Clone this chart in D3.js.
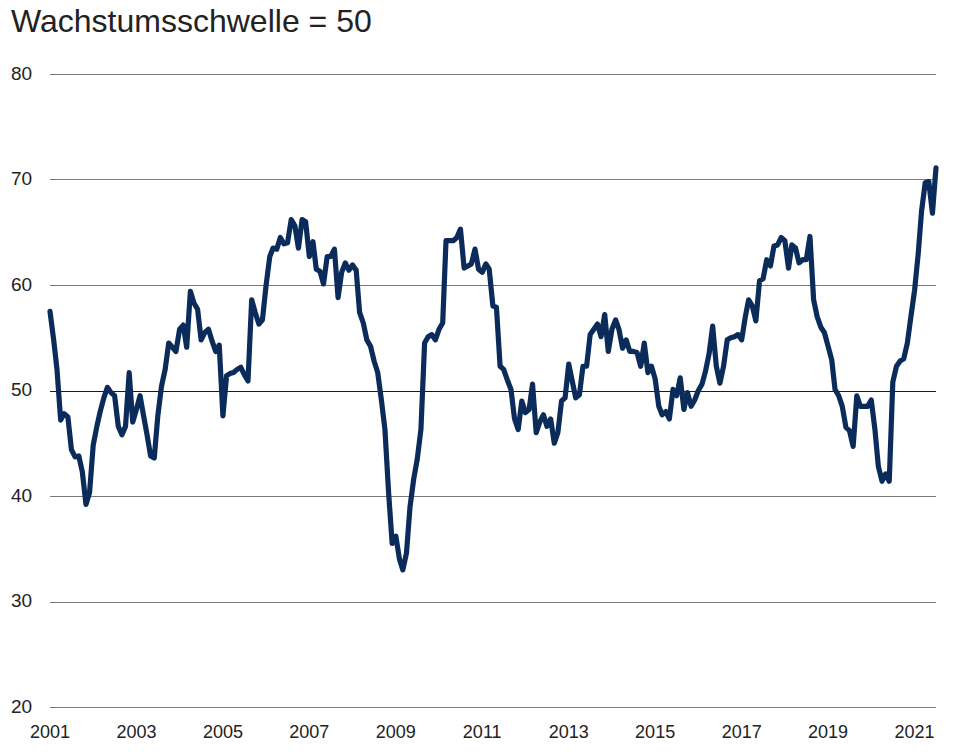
<!DOCTYPE html>
<html>
<head>
<meta charset="utf-8">
<script src="https://cdn.jsdelivr.net/npm/d3@7"></script>
<style>
    html, body { margin: 0; padding: 0; background: #fff; }
    svg { display: block; font-family: 'Liberation Sans', Arial, sans-serif; }
</style>
</head>
<body>
<div class="chart"></div>
<script>
'use strict';

// monthly index values, Jan 2001 - Jul 2021
var values = [
    57.5, 54.8, 52.0, 47.2, 47.8, 47.5, 44.4, 43.7, 43.8, 42.3, 39.2, 40.3,
    44.8, 46.6, 48.0, 49.3, 50.3, 49.8, 49.5, 46.6, 45.8, 46.6, 51.7, 47.0,
    48.2, 49.5, 47.7, 45.8, 43.8, 43.6, 47.6, 50.4, 52.0, 54.5, 54.1, 53.7,
    55.8, 56.2, 54.1, 59.4, 58.3, 57.7, 54.8, 55.5, 55.8, 54.7, 53.7, 54.3,
    47.6, 51.4, 51.6, 51.7, 52.0, 52.2, 51.5, 50.9, 58.6, 57.4, 56.3, 56.7,
    60.0, 62.7, 63.5, 63.4, 64.5, 63.9, 64.0, 66.2, 65.6, 63.5, 66.2, 66.0,
    62.7, 64.1, 61.5, 61.3, 60.1, 62.7, 62.7, 63.4, 58.8, 61.2, 62.1, 61.4,
    61.9, 61.4, 57.4, 56.4, 54.8, 54.2, 52.8, 51.7, 49.1, 46.3, 40.3, 35.5,
    36.2, 34.0, 33.0, 34.6, 39.0, 41.6, 43.5, 46.3, 54.5, 55.1, 55.3, 54.8,
    55.8, 56.4, 64.2, 64.2, 64.2, 64.5, 65.3, 61.6, 61.8, 62.0, 63.4, 61.5,
    61.2, 62.0, 61.5, 58.0, 57.9, 52.3, 52.0, 51.0, 50.1, 47.3, 46.3, 49.0,
    47.9, 48.2, 50.6, 46.0, 47.0, 47.7, 46.6, 47.3, 45.0, 46.0, 49.0, 49.3,
    52.5, 50.8, 49.3, 49.6, 52.3, 52.3, 55.3, 55.8, 56.3, 55.1, 57.2, 53.7,
    55.8, 56.7, 55.8, 54.0, 54.8, 53.7, 53.7, 53.6, 52.3, 54.5, 51.7, 52.3,
    51.1, 48.5, 47.7, 48.0, 47.3, 50.1, 49.5, 51.2, 48.2, 49.8, 48.5, 49.1,
    50.0, 50.6, 51.8, 53.5, 56.1, 52.3, 50.7, 52.3, 54.8, 55.0, 55.1, 55.3,
    54.8, 57.0, 58.6, 58.0, 56.6, 60.4, 60.6, 62.4, 61.8, 63.7, 63.8, 64.5,
    64.2, 61.6, 63.8, 63.5, 62.1, 62.4, 62.4, 64.6, 58.6, 57.0, 56.0, 55.5,
    54.2, 52.9, 50.1, 49.5, 48.5, 46.5, 46.2, 44.7, 49.5, 48.5, 48.5, 48.5,
    49.1, 46.3, 42.8, 41.4, 42.1, 41.4, 50.8, 52.3, 52.8, 53.0, 54.5, 57.0,
    59.5, 63.0, 67.0, 69.7, 69.8, 66.8, 71.1
];

var yTicks = [20, 30, 40, 50, 60, 70, 80];
var yearLabels = [2001, 2003, 2005, 2007, 2009, 2011, 2013, 2015, 2017, 2019, 2021];
var titleText = 'Wachstumsschwelle = 50';

var width = 960,
    height = 755;

var data = values.map(function(v, i){
    return { date: new Date(2001, i, 1), value: v };
});

var x = d3.scaleTime()
    .domain([new Date(2001, 0, 1), new Date(2001, values.length - 1, 1)])
    .range([50, 936]);

var y = d3.scaleLinear()
    .domain([20, 80])
    .range([707, 74]);

var svg = d3.select('.chart').append('svg')
    .attr('width', width)
    .attr('height', height);

svg.append('text')
    .attr('x', 11)
    .attr('y', 32)
    .attr('font-size', 32)
    .attr('fill', '#222')
    .text(titleText);

// gridlines, the 50 threshold is drawn darker
svg.append('g')
    .selectAll('line')
    .data(yTicks)
    .join('line')
    .attr('x1', 50)
    .attr('x2', 936)
    .attr('y1', function(d){ return Math.round(y(d)) + 0.5; })
    .attr('y2', function(d){ return Math.round(y(d)) + 0.5; })
    .attr('stroke', function(d){ return d === 50 ? '#1a1a1a' : '#7a7a7a'; })
    .attr('stroke-width', 1.1);

svg.append('g')
    .selectAll('text')
    .data(yTicks)
    .join('text')
    .attr('x', 11)
    .attr('y', function(d){ return y(d) - 1; })
    .attr('dy', '0.35em')
    .attr('font-size', 19)
    .attr('fill', '#222')
    .text(function(d){ return d; });

svg.append('g')
    .selectAll('text')
    .data(yearLabels)
    .join('text')
    .attr('x', function(d){ return x(new Date(d, 0, 1)); })
    .attr('y', 738)
    .attr('text-anchor', 'middle')
    .attr('font-size', 18)
    .attr('fill', '#222')
    .text(function(d){ return d; });

var line = d3.line()
    .x(function(d){ return x(d.date); })
    .y(function(d){ return y(d.value); });

svg.append('path')
    .datum(data)
    .attr('d', line)
    .attr('fill', 'none')
    .attr('stroke', '#0b2c5a')
    .attr('stroke-width', 5.2)
    .attr('stroke-linejoin', 'round')
    .attr('stroke-linecap', 'round');
</script>
</body>
</html>
